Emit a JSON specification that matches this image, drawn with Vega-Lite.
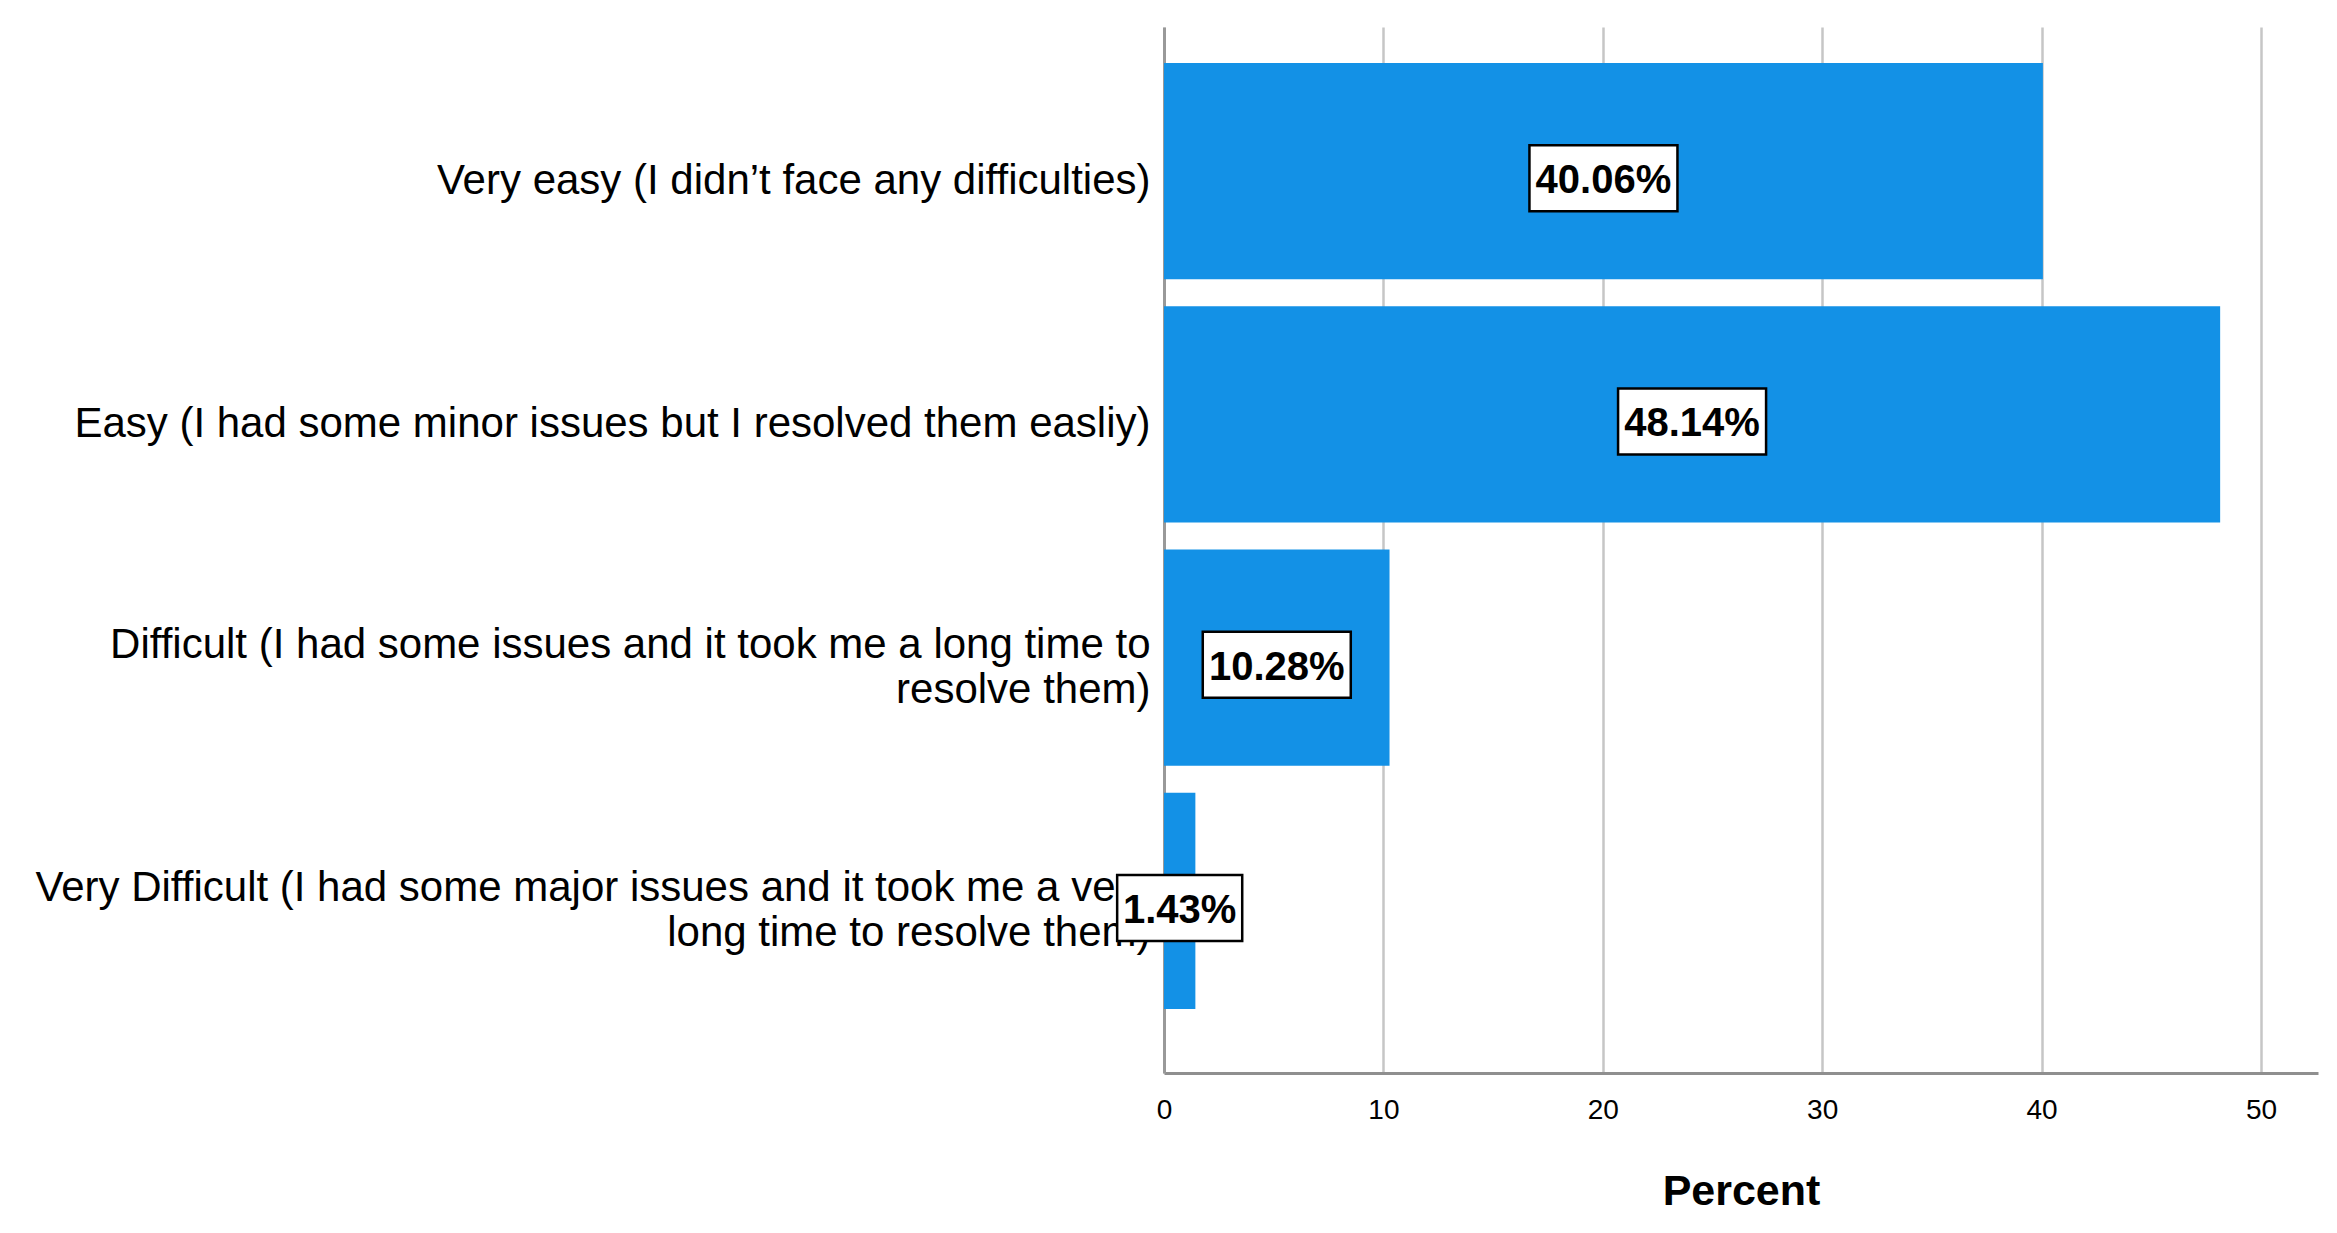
{
  "$schema": "https://vega.github.io/schema/vega-lite/v6.json",
  "autosize": {"type": "none"},
  "padding": {"left": 1164, "top": 27, "right": 19, "bottom": 160},
  "width": 1154,
  "height": 1046,
  "background": "white",
  "config": {
    "view": {"stroke": null},
    "font": "Liberation Sans"
  },
  "data": {
    "values": [
      {"category": "Very easy (I didn’t face any difficulties)", "percent": 40.06, "label": "40.06%"},
      {"category": "Easy (I had some minor issues but I resolved them easliy)", "percent": 48.14, "label": "48.14%"},
      {"category": "Difficult (I had some issues and it took me a long time to resolve them)", "percent": 10.28, "label": "10.28%"},
      {"category": "Very Difficult (I had some major issues and it took me a very long time to resolve them)", "percent": 1.43, "label": "1.43%"}
    ]
  },
  "resolve": {"scale": {"x": "independent"}},
  "layer": [
    {
      "mark": {"type": "bar", "color": "#1391E6"},
      "encoding": {
        "y": {
          "field": "category",
          "type": "nominal",
          "sort": null,
          "scale": {"paddingInner": 0.111, "paddingOuter": 0.2055, "align": 0.36},
          "axis": {
            "title": null,
            "ticks": false,
            "tickSize": 0,
            "domainColor": "#999999",
            "domainWidth": 3,
            "labelFont": "Liberation Sans",
            "labelFontSize": 42,
            "labelColor": "#000000",
            "labelPadding": 14,
            "labelLimit": 1200,
            "labelOffset": {"condition": {"test": "length(datum.value) > 65", "value": -13}, "value": 10},
            "labelLineHeight": 45,
            "labelExpr": "datum.value == 'Difficult (I had some issues and it took me a long time to resolve them)' ? ['Difficult (I had some issues and it took me a long time to', 'resolve them)'] : datum.value == 'Very Difficult (I had some major issues and it took me a very long time to resolve them)' ? ['Very Difficult (I had some major issues and it took me a very', 'long time to resolve them)'] : datum.value"
          }
        },
        "x": {
          "field": "percent",
          "type": "quantitative",
          "scale": {"domain": [0, 52.6], "nice": false, "zero": true},
          "axis": {
            "title": "Percent",
            "values": [0, 10, 20, 30, 40, 50],
            "ticks": false,
            "tickSize": 0,
            "grid": true,
            "gridColor": "#c6c6c6",
            "gridWidth": 2.5,
            "domainColor": "#8f8f8f",
            "domainWidth": 3,
            "labelFont": "Liberation Sans",
            "labelFontSize": 28,
            "labelColor": "#000000",
            "labelPadding": 23,
            "labelBaseline": "top",
            "labelFlush": false,
            "titleFont": "Liberation Sans",
            "titleFontSize": 43,
            "titleFontWeight": "bold",
            "titleColor": "#000000",
            "titlePadding": 46
          }
        }
      }
    },
    {
      "mark": {"type": "point", "filled": true, "fill": "white", "stroke": "#000000", "strokeWidth": 2.5, "opacity": 1, "fillOpacity": 1, "strokeOpacity": 1},
      "encoding": {
        "y": {"field": "category", "type": "nominal", "sort": null},
        "x": {"field": "percent", "type": "quantitative", "scale": {"domain": [0, 105.2], "nice": false, "zero": true}, "axis": null},
        "size": {"value": 21904},
        "shape": {
          "condition": {"test": "datum.percent < 5", "value": "M-0.845,-0.351H0.845V0.541H-0.845Z"},
          "value": "M-1,-0.351H1V0.541H-1Z"
        }
      }
    },
    {
      "mark": {"type": "text", "font": "Liberation Sans", "fontSize": 40, "fontWeight": "bold", "color": "#000000", "align": "center", "baseline": "middle", "dy": 10},
      "encoding": {
        "y": {"field": "category", "type": "nominal", "sort": null},
        "x": {"field": "percent", "type": "quantitative", "scale": {"domain": [0, 105.2], "nice": false, "zero": true}, "axis": null},
        "text": {"field": "label", "type": "nominal"}
      }
    }
  ]
}
